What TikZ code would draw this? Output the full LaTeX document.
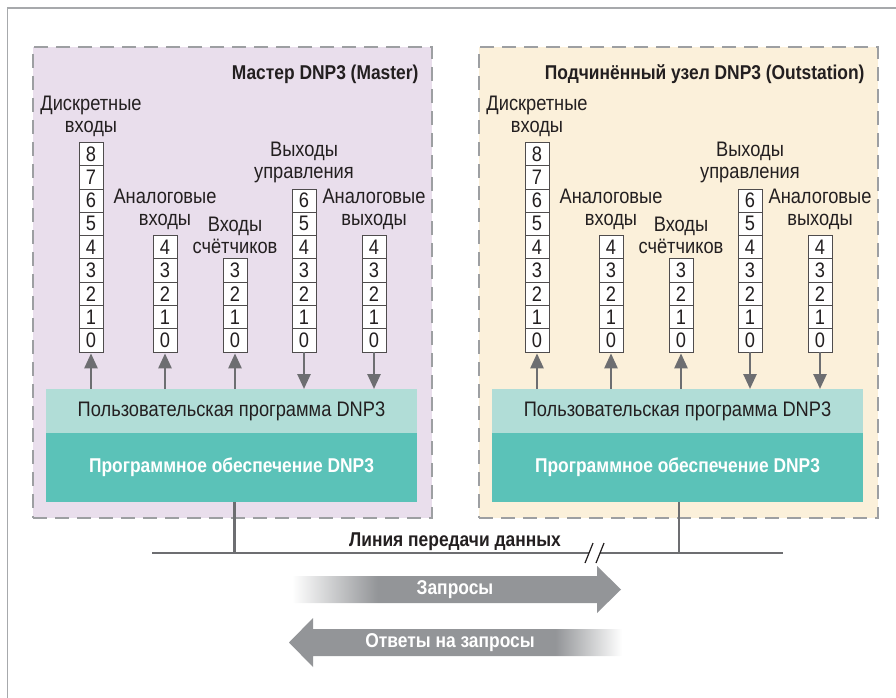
\documentclass[tikz,border=0pt]{standalone}
\usepackage{fontspec}
\setmainfont{Liberation Sans}[FakeStretch=0.87]
\usetikzlibrary{arrows.meta,positioning}
\definecolor{framegray}{HTML}{A7A9AC}
\definecolor{dashgray}{HTML}{9D9FA2}
\definecolor{masterfill}{HTML}{E9DEEC}
\definecolor{outfill}{HTML}{FBF0DA}
\definecolor{userfill}{HTML}{B1DDD7}
\definecolor{corefill}{HTML}{5BC2B8}
\definecolor{pilgray}{HTML}{6D6E71}
\definecolor{biggray}{HTML}{939598}
\definecolor{textdark}{HTML}{231F20}
\pgfdeclarehorizontalshading{reqshade}{100bp}{color(0bp)=(white); color(25bp)=(white); color(38bp)=(biggray); color(100bp)=(biggray)}
\pgfdeclarehorizontalshading{ansshade}{100bp}{color(0bp)=(biggray); color(65bp)=(biggray); color(75bp)=(white); color(100bp)=(white)}
\tikzset{
    %Define standard arrow tip
    >={Triangle[length=15pt,width=13pt]},
    %Define style for the dashed panels
    panelbox/.style={
           rectangle,
           draw=dashgray, line width=1.3pt,
           dash pattern=on 14pt off 8pt,
           minimum width=399pt,
           minimum height=471pt},
    %Define style for register cells
    regcell/.style={
           rectangle,
           draw=textdark!80, line width=0.7pt,
           fill=white,
           minimum width=24pt,
           minimum height=23.3pt,
           inner sep=0pt,
           text=textdark,
           font=\fontsize{21}{22}\selectfont},
    etikett/.style={
           align=center,
           inner sep=0pt,
           text=textdark,
           font=\fontsize{21}{22}\selectfont},
    titel/.style={
           inner sep=0pt,
           text=textdark,
           font=\fontsize{20}{22}\selectfont\bfseries},
    blokk/.style={
           rectangle,
           minimum width=371pt,
           inner sep=0pt, outer sep=0pt},
    % Define arrow style
    pil/.style={
           ->,
           draw=pilgray, fill=pilgray,
           line width=2.6pt},
    buslinje/.style={
           draw=pilgray,
           line width=2.6pt},
    pilskrift/.style={
           text=white,
           font=\fontsize{20}{22}\selectfont\bfseries}
}
\begin{document}
\begin{tikzpicture}[x=1pt,y=1pt]
\useasboundingbox (0,0) rectangle (896,-698);
\draw[framegray, line width=1.5pt] (7.5,-698) -- (7.5,-8) -- (896,-8);
\foreach \p/\dx/\fc/\title in {m/0/masterfill/{Мастер DNP3 (Master)},
    o/446/outfill/{Подчинённый узел DNP3 (Outstation)}}{
  \node[panelbox, fill=\fc] (\p box) at (232.5+\dx,-282.5) {};
  \node[titel, anchor=north east] (\p title)
      at ([xshift=-14pt,yshift=-18pt]\p box.north east) {\title};
  % registers with their labels
  \foreach \c/\cx/\top/\lbl in {1/91/8/{Дискретные\\входы},
      2/165/4/{Аналоговые\\входы}, 3/235/3/{Входы\\счётчиков},
      4/304/6/{Выходы\\управления}, 5/374/4/{Аналоговые\\выходы}}{
    \foreach \k in {0,...,\top}
      \node[regcell] (\p\c-\k) at (\cx+\dx,-340.35+23.3*\k) {\k};
    \node[etikett, above=5pt of \p\c-\top] (\p lbl\c) {\lbl};
  }
  \node[blokk, fill=userfill, minimum height=44pt, text=textdark,
      font=\fontsize{21}{22}\selectfont] (\p user)
      at (231.5+\dx,-411) {Пользовательская программа DNP3};
  \node[blokk, fill=corefill, minimum height=69pt, below=0pt of \p user,
      text=white, font=\fontsize{20}{22}\selectfont\bfseries] (\p core)
      {Программное обеспечение DNP3};
  \foreach \c in {1,2,3}
    \draw[pil, shorten >=1pt] (\p user.north -| \p\c-0.south) -- (\p\c-0.south);
  \foreach \c in {4,5}
    \draw[pil] (\p\c-0.south) -- (\p user.north -| \p\c-0.south);
}
% data line
\coordinate (busL) at (152,-553);
\coordinate (busR) at (783,-553);
\coordinate (brkA) at (589,-553);
\coordinate (brkB) at (600,-553);
\draw[buslinje] (busL) -- (brkA);
\draw[buslinje] (brkB) -- (busR);
\draw[buslinje] ([xshift=3pt]mcore.south) -- ([xshift=3pt]mcore.south |- busL);
\draw[buslinje] ([xshift=1.5pt]ocore.south) -- ([xshift=1.5pt]ocore.south |- busL);
\draw[textdark, line width=1.2pt] ([xshift=-4pt,yshift=-10pt]brkA) -- ([xshift=4pt,yshift=10pt]brkA);
\draw[textdark, line width=1.2pt] ([xshift=-4pt,yshift=-10pt]brkB) -- ([xshift=4pt,yshift=10pt]brkB);
\node[titel] (buslbl) at (455,-542) {Линия передачи данных};
% requests and answers
\shade[shading=reqshade] (292,-576) -- (597,-576) -- (597,-566) -- (621,-589.5)
    -- (597,-613) -- (597,-603) -- (292,-603) -- cycle;
\node[pilskrift] (req) at (455,-589.5) {Запросы};
\shade[shading=ansshade] (622,-629) -- (313,-629) -- (313,-618) -- (289,-642.5)
    -- (313,-667) -- (313,-656) -- (622,-656) -- cycle;
\node[pilskrift] (ans) at (450,-642.5) {Ответы на запросы};
\end{tikzpicture}
\end{document}
